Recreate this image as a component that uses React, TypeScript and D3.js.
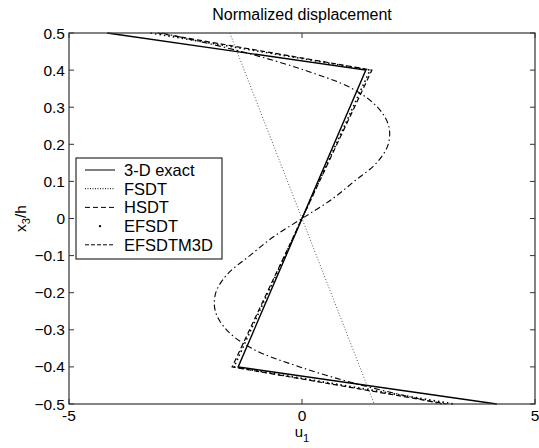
import React from "react";
import * as d3 from "d3";

const W = 539;
const H = 448;
const MARGIN = { top: 33, right: 4, bottom: 44, left: 69 };

// through-thickness levels for the piecewise curves
const kinkZ = [0.5, 0.4, -0.4, -0.5];
const exactU = [-4.18, 1.37, -1.37, 4.18];
const hsdtU = [-3.1, 1.5, -1.5, 3.1];
const efsdtU = [-3.25, 1.46, -1.46, 3.25];

const fsdtZ = [0.5, -0.5];
const fsdtU = [-1.55, 1.55];

const m3dZ = [0.5, 0.45, 0.4, 0.35, 0.3, 0.25, 0.2, 0.15, 0.1, 0.05, 0, -0.05, -0.1, -0.15, -0.2, -0.25, -0.3, -0.35, -0.4, -0.45, -0.5];
const m3dU = [-3.0, -1.3, 0.05, 1.08, 1.62, 1.86, 1.85, 1.6, 1.12, 0.62, 0, -0.62, -1.12, -1.6, -1.85, -1.86, -1.62, -1.08, -0.05, 1.3, 3.0];

const xTicks = [-5, 0, 5];
const yTicks = [0.5, 0.4, 0.3, 0.2, 0.1, 0, -0.1, -0.2, -0.3, -0.4, -0.5];

const legendItems = [
  { name: "3-D exact", dash: "none", dot: false },
  { name: "FSDT", dash: "1,1.5", dot: false },
  { name: "HSDT", dash: "5,3", dot: false },
  { name: "EFSDT", dash: "none", dot: true },
  { name: "EFSDTM3D", dash: "4,2", dot: false },
];

const FONT = "Liberation Sans, Arial, sans-serif";

export default function App() {
  const x = d3.scaleLinear().domain([-5, 5]).range([MARGIN.left, 535]);
  const y = d3.scaleLinear().domain([-0.5, 0.5]).range([404, MARGIN.top]);

  const line = d3
    .line<[number, number]>()
    .x((d) => x(d[0]))
    .y((d) => y(d[1]));
  const smooth = d3
    .line<[number, number]>()
    .x((d) => x(d[0]))
    .y((d) => y(d[1]))
    .curve(d3.curveCatmullRom);

  const pts = (us: number[], zs: number[]) => us.map((u, i) => [u, zs[i]] as [number, number]);

  const x0 = x(-5), x1 = x(5), y0 = y(0.5), y1 = y(-0.5);
  const tick = 5;

  const lgX = 76, lgY = 158, lgW = 146, lgH = 101, rowH = 18.7;

  return (
    <svg width={W} height={H} style={{ position: "absolute", left: 0, top: 0, background: "#fff" }} fontFamily={FONT}>
      <rect x={0} y={0} width={W} height={H} fill="#fff" />
      {/* title */}
      <text x={302} y={20} textAnchor="middle" fontSize={16}>Normalized displacement</text>

      {/* curves */}
      <g fill="none" stroke="#000">
        <path d={line(pts(fsdtU, fsdtZ)) || ""} strokeWidth={1} strokeDasharray="1,2" stroke="#555" />
        <path d={smooth(pts(m3dU, m3dZ)) || ""} strokeWidth={1.1} strokeDasharray="6,3,1.5,3" />
        <path d={line(pts(hsdtU, kinkZ)) || ""} strokeWidth={1.2} strokeDasharray="5,3" />
        <path d={line(pts(efsdtU, kinkZ)) || ""} strokeWidth={1.6} strokeDasharray="1.5,3" />
        <path d={line(pts(exactU, kinkZ)) || ""} strokeWidth={1.4} />
      </g>

      {/* axes box */}
      <rect x={x0} y={y0} width={x1 - x0} height={y1 - y0} fill="none" stroke="#333" strokeWidth={1.2} />
      <g stroke="#333" strokeWidth={1}>
        {yTicks.map((t) => (
          <g key={"yt" + t}>
            <line x1={x0} x2={x0 + tick} y1={y(t)} y2={y(t)} />
            <line x1={x1} x2={x1 - tick} y1={y(t)} y2={y(t)} />
          </g>
        ))}
        {xTicks.map((t) => (
          <g key={"xt" + t}>
            <line x1={x(t)} x2={x(t)} y1={y1} y2={y1 - tick} />
            <line x1={x(t)} x2={x(t)} y1={y0} y2={y0 + tick} />
          </g>
        ))}
      </g>
      <g fontSize={15.5} fill="#000">
        {yTicks.map((t) => (
          <text key={"yl" + t} x={x0 - 4} y={y(t) + 5.5} textAnchor="end">
            {d3.format("")(t)}
          </text>
        ))}
        {xTicks.map((t) => (
          <text key={"xl" + t} x={x(t)} y={421} textAnchor="middle">
            {t}
          </text>
        ))}
      </g>

      {/* axis labels */}
      <text x={302} y={437} textAnchor="middle" fontSize={15}>
        u<tspan fontSize={11} dy={5}>1</tspan>
      </text>
      <text transform={`translate(26,${y(0)}) rotate(-90)`} textAnchor="middle" fontSize={15.5}>
        x<tspan fontSize={11} dy={4}>3</tspan><tspan dy={-4}>/h</tspan>
      </text>

      {/* legend */}
      <g>
        <rect x={lgX} y={lgY} width={lgW} height={lgH} fill="#fff" stroke="#000" strokeWidth={1} />
        {legendItems.map((it, i) => {
          const cy = lgY + 12 + i * rowH;
          return (
            <g key={it.name}>
              {it.dot ? (
                <circle cx={100} cy={cy} r={1.2} fill="#000" />
              ) : (
                <line x1={85} x2={115} y1={cy} y2={cy} stroke="#000" strokeWidth={1} strokeDasharray={it.dash} />
              )}
              <text x={124} y={cy + 6} fontSize={16.5}>{it.name}</text>
            </g>
          );
        })}
      </g>
    </svg>
  );
}
